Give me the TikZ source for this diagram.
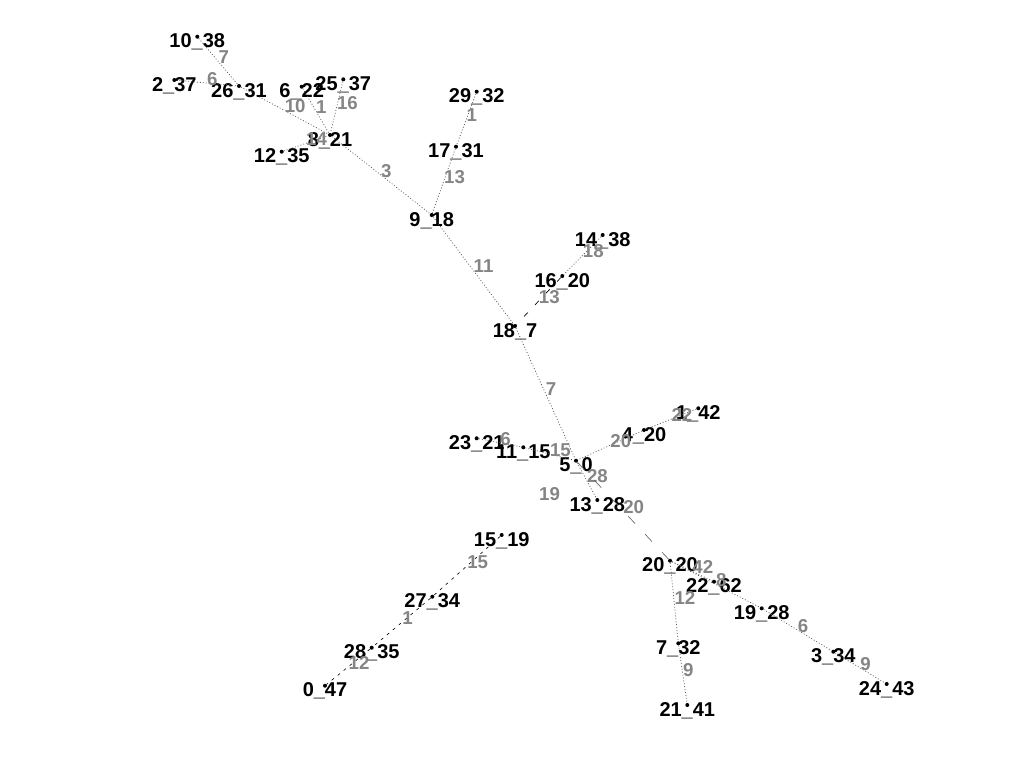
\documentclass[tikz,border=0pt]{standalone}
\usepackage{fontspec}
\setmainfont{Liberation Sans}
\begin{document}
\begin{tikzpicture}[x=0.75pt,y=-0.75pt,
  dotn/.style={circle,fill=black,inner sep=0pt,minimum size=3pt},
  nlab/.style={inner sep=0pt,font=\fontsize{15}{15}\selectfont\bfseries,text=black},
  elab/.style={inner sep=0pt,anchor=base west,yshift=-1.8pt,font=\fontsize{14}{14}\selectfont\bfseries,text=black!48},
  dotl/.style={draw=black!65,line width=0.55pt,dash pattern=on 0.7pt off 1.5pt},
  shortdash/.style={draw=black,line width=0.45pt,dash pattern=on 2.2pt off 3.6pt},
  middash/.style={draw=black,line width=0.5pt,dash pattern=on 4pt off 8pt},
  longdash/.style={draw=black!60,line width=0.5pt,dash pattern=on 7.5pt off 11pt},
  blank/.style={draw=none}]
\useasboundingbox (0,0) rectangle (1024,768);
\newcommand\vtx[4]{\node[dotn] (v#1) at (#2,#3) {};\node[nlab,anchor=base] (l#1) at (#2,#3+11) {#4};}
\vtx{10}{197.3}{36.7}{10\_38}
\vtx{2}{174.3}{80}{2\_37}
\vtx{26}{239}{86}{26\_31}
\vtx{6}{301.7}{86.7}{6\_22}
\vtx{25}{343.3}{79.3}{25\_37}
\vtx{8}{330}{135}{8\_21}
\vtx{12}{281.7}{151.7}{12\_35}
\vtx{29}{476.7}{91.7}{29\_32}
\vtx{17}{456}{146.7}{17\_31}
\vtx{9}{431.7}{215}{9\_18}
\vtx{14}{602.7}{235}{14\_38}
\vtx{16}{562.3}{276}{16\_20}
\vtx{18}{515}{326}{18\_7}
\vtx{1}{698.3}{408.3}{1\_42}
\vtx{4}{644}{430}{4\_20}
\vtx{23}{476.7}{438.3}{23\_21}
\vtx{11}{523.3}{447.3}{11\_15}
\vtx{5}{576}{460.7}{5\_0}
\vtx{13}{597.3}{500}{13\_28}
\vtx{20}{670}{560.7}{20\_20}
\vtx{22}{714}{581.7}{22\_62}
\vtx{19}{761.7}{608.3}{19\_28}
\vtx{3}{833.3}{651.7}{3\_34}
\vtx{24}{886.7}{684}{24\_43}
\vtx{7}{678.3}{643.3}{7\_32}
\vtx{21}{687.3}{705}{21\_41}
\vtx{15}{501.7}{535}{15\_19}
\vtx{27}{432.3}{596.7}{27\_34}
\vtx{28}{371.7}{647.7}{28\_35}
\vtx{0}{325}{685.7}{0\_47}
\draw[dotl] (v10) -- node[elab]{7} (v26);
\draw[dotl] (v2) -- node[elab]{6} (v26);
\draw[dotl] (v26) -- node[elab]{10} (v8);
\draw[dotl] (v6) -- node[elab]{1} (v8);
\draw[dotl] (v25) -- node[elab]{16} (v8);
\draw[dotl] (v12) -- node[elab]{14} (v8);
\draw[dotl] (v8) -- node[elab]{3} (v9);
\draw[dotl] (v29) -- node[elab]{1} (v17);
\draw[dotl] (v17) -- node[elab]{13} (v9);
\draw[dotl] (v9) -- node[elab]{11} (v18);
\draw[dotl] (v14) -- node[elab]{18} (v16);
\draw[middash] (v16) -- node[elab]{13} (v18);
\draw[dotl] (v18) -- node[elab]{7} (v5);
\draw[dotl] (v1) -- node[elab]{22} (v4);
\draw[dotl] (v4) -- node[elab]{20} (v5);
\draw[dotl] (v23) -- node[elab]{6} (v11);
\draw[dotl] (v11) -- node[elab]{15} (v5);
\draw[dotl] (v5) -- node[elab]{28} (v13);
\path[blank] (v5) -- node[elab]{19} (v15);
\draw[longdash] (v5) -- node[elab]{20} (v20);
\draw[dotl] (v20) -- node[elab]{42} (v22);
\draw[dotl] (v20) -- node[elab]{8} (v19);
\draw[dotl] (v19) -- node[elab]{6} (v3);
\draw[dotl] (v3) -- node[elab]{9} (v24);
\draw[dotl] (v20) -- node[elab]{12} (v7);
\draw[dotl] (v7) -- node[elab]{9} (v21);
\draw[shortdash] (v15) -- node[elab]{15} (v27);
\draw[shortdash] (v27) -- node[elab]{1} (v28);
\draw[shortdash] (v28) -- node[elab]{12} (v0);
\end{tikzpicture}
\end{document}
